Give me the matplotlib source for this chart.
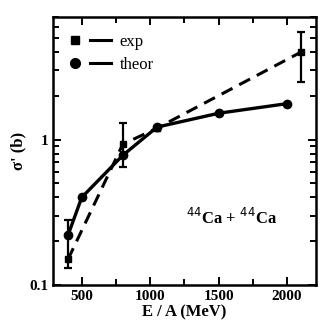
import matplotlib
matplotlib.use("Agg")
import matplotlib.pyplot as plt
import numpy as np
from matplotlib.lines import Line2D
from matplotlib.legend_handler import HandlerTuple
from matplotlib.ticker import FixedLocator, LogLocator, NullFormatter

plt.rcParams['font.family'] = ['Liberation Serif', 'DejaVu Serif']

# experiment (squares, dashed)
exp_E = [400, 800, 1050, 2100]
exp_sig = [0.15, 0.93, 1.2, 4.0]
exp_lo = [0.13, 0.65, 1.15, 2.5]
exp_hi = [0.28, 1.3, 1.25, 5.5]

# theory (circles, solid)
th_E = [400, 500, 800, 1050, 1500, 2000]
th_sig = [0.22, 0.40, 0.78, 1.22, 1.52, 1.77]

fig = plt.figure(figsize=(3.21, 3.32), dpi=100)
ax = fig.add_axes([0.165, 0.142, 0.819, 0.807])

yerr = [np.array(exp_sig) - np.array(exp_lo), np.array(exp_hi) - np.array(exp_sig)]
ax.errorbar(exp_E, exp_sig, yerr=yerr, fmt='none', ecolor='black', elinewidth=1.6,
            capsize=3, capthick=1.6)
ax.plot(exp_E, exp_sig, color='black', linestyle=(0, (4, 2.5)), linewidth=2.2,
        marker='s', markersize=5)
ax.plot(th_E, th_sig, color='black', linestyle='-', linewidth=2.4,
        marker='o', markersize=6)

ax.set_yscale('log')
ax.set_xlim(290, 2210)
ax.set_ylim(0.1, 7.0)

ax.xaxis.set_major_locator(FixedLocator([500, 1000, 1500, 2000]))
ax.xaxis.set_minor_locator(FixedLocator([250, 750, 1250, 1750]))
ax.yaxis.set_major_locator(FixedLocator([0.1, 1]))
ax.yaxis.set_minor_locator(LogLocator(base=10, subs=np.arange(2, 10)))
ax.yaxis.set_minor_formatter(NullFormatter())
ax.set_yticklabels(['0.1', '1'])

ax.tick_params(which='both', direction='in', top=True, right=True, width=1.4)
ax.tick_params(which='major', length=6, labelsize=11)
ax.tick_params(which='minor', length=4)
for lab in ax.get_xticklabels() + ax.get_yticklabels():
    lab.set_fontweight('bold')
for s in ax.spines.values():
    s.set_linewidth(1.8)

ax.set_xlabel('E / A (MeV)', fontsize=12, fontweight='bold', labelpad=1)
ax.set_ylabel("σ' (b)", fontsize=12, fontweight='bold', labelpad=2)

ax.text(0.68, 0.25, r'$^{44}$Ca + $^{44}$Ca', transform=ax.transAxes,
        fontsize=12, fontweight='bold', ha='center', va='center')

# legend: marker first, then a short line piece
sq = Line2D([], [], color='black', marker='s', markersize=6, linestyle='none')
ci = Line2D([], [], color='black', marker='o', markersize=7, linestyle='none')
ln1 = Line2D([], [], color='black', linestyle='-', linewidth=2.2)
ln2 = Line2D([], [], color='black', linestyle='-', linewidth=2.2)
ax.legend([(sq, ln1), (ci, ln2)], ['exp', 'theor'],
          handler_map={tuple: HandlerTuple(ndivide=None, pad=0.2)},
          loc='upper left', frameon=False, fontsize=12, handlelength=2.8,
          handletextpad=0.5, labelspacing=0.4, borderaxespad=0.3,
          bbox_to_anchor=(0.0, 0.98))

fig.savefig('out.png', dpi=100)
